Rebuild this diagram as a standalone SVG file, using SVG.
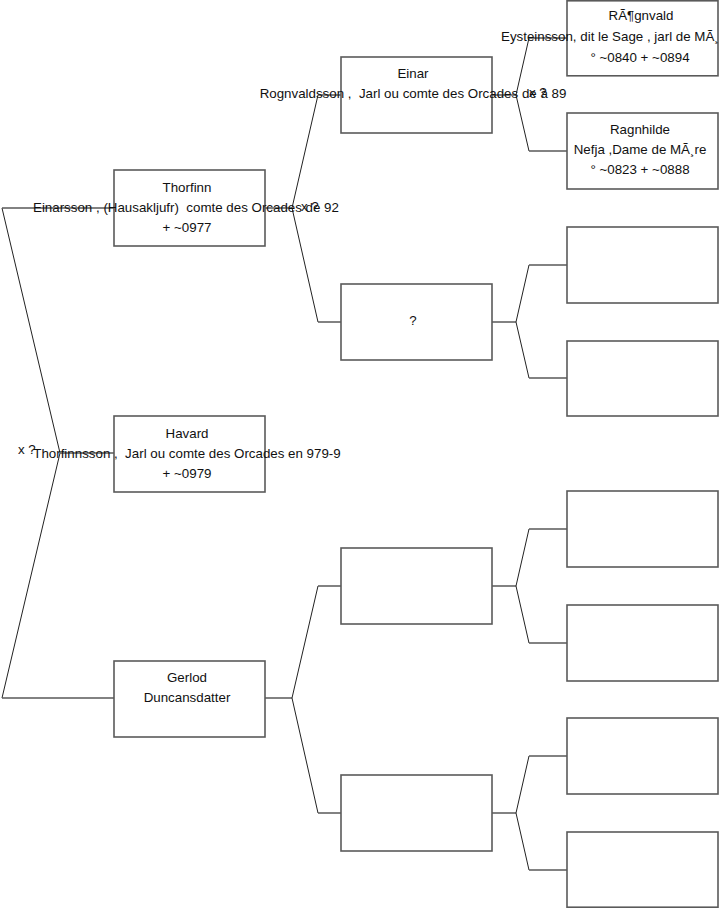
<svg xmlns="http://www.w3.org/2000/svg" width="719" height="908" viewBox="0 0 719 908">
<style>
.box{fill:#fff;stroke:#5a5a5a;stroke-width:1.6}
.d{stroke:#222;stroke-width:1;fill:none}
.h{stroke:#5a5a5a;stroke-width:1.5;fill:none}
text{font-family:"Liberation Sans",Arial,sans-serif;font-size:13.33px;fill:#111;white-space:pre}
.m{text-anchor:middle}
</style>
<rect width="719" height="908" fill="#fff"/>
<g id="connectors">
<path class="d" d="M2,208 L60,453 L2,698"/>
<path class="h" d="M2,208 H114 M60,453 H114 M2,698 H114"/>
<path class="h" d="M265,208 H292 M265,698 H292"/>
<path class="d" d="M318,95 L292,208 L318,322 M318,586 L292,698 L318,813"/>
<path class="h" d="M318,95 H341 M318,322 H341 M318,586 H341 M318,813 H341"/>
<path class="h" d="M492,95 H516 M492,322 H516 M492,586 H516 M492,813 H516"/>
<path class="d" d="M529,38 L516,95 L529,151 M529,265 L516,322 L529,378 M529,529 L516,586 L529,643 M529,756 L516,813 L529,870"/>
<path class="h" d="M529,38 H567 M529,151 H567 M529,265 H567 M529,378 H567 M529,529 H567 M529,643 H567 M529,756 H567 M529,870 H567"/>
</g>
<g id="thorfinn">
<rect class="box" x="114" y="170" width="151" height="76"/>
<text class="m" x="187" y="192">Thorfinn</text>
<text x="33" y="212" xml:space="preserve">Einarsson , (Hausakljufr)  comte des Orcades de 92</text>
<text class="m" x="187" y="232">+ ~0977</text>
</g>
<g id="havard">
<rect class="box" x="114" y="416" width="151" height="76"/>
<text class="m" x="187" y="438">Havard</text>
<text class="m" x="187" y="458" xml:space="preserve">Thorfinnsson ,  Jarl ou comte des Orcades en 979-9</text>
<text class="m" x="187" y="478">+ ~0979</text>
</g>
<g id="gerlod">
<rect class="box" x="114" y="661" width="151" height="76"/>
<text class="m" x="187" y="682">Gerlod</text>
<text class="m" x="187" y="702">Duncansdatter</text>
</g>
<g id="einar">
<rect class="box" x="341" y="57" width="151" height="76"/>
<text class="m" x="413" y="78">Einar</text>
<text class="m" x="413" y="98" xml:space="preserve">Rognvaldsson ,  Jarl ou comte des Orcades de à 89</text>
</g>
<g id="unknown">
<rect class="box" x="341" y="284" width="151" height="76"/>
<text class="m" x="413" y="325">?</text>
</g>
<g id="g2c"><rect class="box" x="341" y="548" width="151" height="76"/></g>
<g id="g2d"><rect class="box" x="341" y="775" width="151" height="76"/></g>
<g id="rognvald">
<rect class="box" x="567" y="0.8" width="151" height="75"/>
<text class="m" x="641" y="20">RÃ¶gnvald</text>
<text x="501" y="41">Eysteinsson, dit le Sage , jarl de MÃ¸re</text>
<text class="m" x="640" y="62">° ~0840 + ~0894</text>
</g>
<g id="ragnhilde">
<rect class="box" x="567" y="113" width="151" height="76"/>
<text class="m" x="640" y="134">Ragnhilde</text>
<text class="m" x="640" y="154">Nefja ,Dame de MÃ¸re</text>
<text class="m" x="640" y="174">° ~0823 + ~0888</text>
</g>
<g id="g3c"><rect class="box" x="567" y="227" width="151" height="76"/></g>
<g id="g3d"><rect class="box" x="567" y="341" width="151" height="75"/></g>
<g id="g3e"><rect class="box" x="567" y="491" width="151" height="76"/></g>
<g id="g3f"><rect class="box" x="567" y="605" width="151" height="76"/></g>
<g id="g3g"><rect class="box" x="567" y="718" width="151" height="76"/></g>
<g id="g3h"><rect class="box" x="567" y="832" width="151" height="75.2"/></g>
<g id="labels">
<text x="18" y="454" xml:space="preserve">x ?</text>
<text x="301" y="211" xml:space="preserve">x ?</text>
<text x="529" y="97" xml:space="preserve">x ?</text>
</g>
</svg>
